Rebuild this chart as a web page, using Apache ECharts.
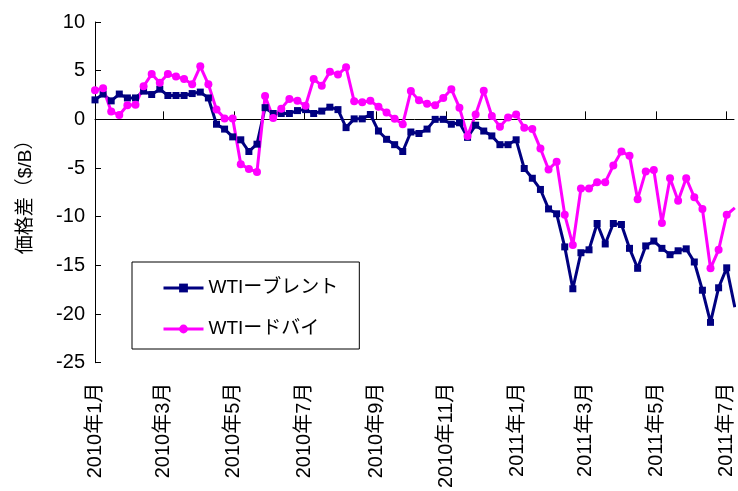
<!DOCTYPE html>
<html>
<head>
<meta charset="utf-8">
<script src="https://cdn.jsdelivr.net/npm/echarts@6/dist/echarts.min.js"></script>
<style>
  html, body { margin: 0; padding: 0; background: #fff; }
  #chart { width: 738px; height: 491px; }
</style>
</head>
<body>
<div id="chart"></div>
<script>
// Weekly price spreads, first week starting 2010-01-01
const firstWeek = [2010, 0, 1];
const seriesNames = ['WTIーブレント', 'WTIードバイ'];

const wtiBrent = [
  2.0, 2.6, 1.9, 2.6, 2.2, 2.2, 2.9, 2.55, 3.1, 2.45,
  2.45, 2.45, 2.65, 2.8, 2.2, -0.5, -1.0, -1.8, -2.1, -3.3,
  -2.55, 1.2, 0.6, 0.6, 0.6, 0.9, 1.0, 0.6, 0.85, 1.25,
  1.0, -0.85, 0.05, 0.05, 0.5, -1.2, -2.05, -2.6, -3.3, -1.3,
  -1.45, -1.0, 0.0, 0.0, -0.5, -0.35, -1.85, -0.6, -1.2, -1.7,
  -2.6, -2.6, -2.1, -5.05, -6.05, -7.2, -9.2, -9.7, -13.1, -17.4,
  -13.7, -13.4, -10.7, -12.8, -10.7, -10.8, -13.25, -15.3, -13.0, -12.5,
  -13.25, -13.9, -13.5, -13.3, -14.65, -17.55, -20.85, -17.3, -15.25, -19.3
];

const wtiDubai = [
  3.0, 3.2, 0.8, 0.45, 1.45, 1.5, 3.4, 4.65, 3.75, 4.65,
  4.4, 4.15, 3.6, 5.45, 3.6, 1.0, 0.1, 0.1, -4.6, -5.1,
  -5.4, 2.4, 0.15, 1.1, 2.1, 1.9, 1.4, 4.15, 3.45, 4.9,
  4.6, 5.35, 1.85, 1.75, 1.9, 1.3, 0.7, 0.05, -0.5, 2.9,
  1.95, 1.6, 1.45, 2.2, 3.1, 1.2, -1.7, 0.5, 2.95, 0.35,
  -0.75, 0.2, 0.5, -0.85, -1.0, -3.0, -5.15, -4.35, -9.8, -12.9,
  -7.1, -7.1, -6.45, -6.45, -4.75, -3.3, -3.75, -8.2, -5.35, -5.2,
  -10.65, -6.05, -8.35, -6.05, -8.0, -9.2, -15.3, -13.4, -9.8, -9.1
];

// Month ticks on the date axis (year, month)
const monthTicks = [
  [2010, 1], [2010, 3], [2010, 5], [2010, 7], [2010, 9], [2010, 11],
  [2011, 1], [2011, 3], [2011, 5], [2011, 7]
];

const yTicks = { min: -25, max: 10, step: 5 };

const DAY = 86400000;
const t0 = Date.UTC(firstWeek[0], firstWeek[1], firstWeek[2]);
const weekTime = (i) => t0 + i * 7 * DAY;
const tickTimes = monthTicks.map(([y, m]) => Date.UTC(y, m - 1, 1));
const xMax = t0 + 552.3 * DAY;

const pairs = (vals) => vals.map((v, i) => [weekTime(i), v]);

const FONT = '"Liberation Sans", Arial, "Noto Sans CJK JP", sans-serif';

const chart = echarts.init(document.getElementById('chart'), null, { renderer: 'canvas' });

chart.setOption({
  backgroundColor: '#ffffff',
  animation: false,
  textStyle: { fontFamily: FONT, color: '#000' },
  grid: { left: 95, top: 22, right: 4, bottom: 126, containLabel: false },
  legend: {
    orient: 'vertical',
    left: 132,
    top: 262,
    padding: [16, 21, 10, 30],
    itemGap: 21,
    itemWidth: 40,
    itemHeight: 11,
    borderColor: '#000',
    borderWidth: 1,
    backgroundColor: '#fff',
    lineStyle: { width: 3 },
    textStyle: { fontFamily: FONT, fontSize: 19, color: '#000', lineHeight: 20 },
    data: seriesNames
  },
  xAxis: [
    {
      type: 'value',
      min: t0,
      max: xMax,
      position: 'bottom',
      axisLine: { show: false, onZero: false },
      axisTick: { show: false },
      splitLine: { show: false },
      axisLabel: {
        customValues: tickTimes,
        rotate: 90,
        margin: 20,
        fontSize: 20,
        color: '#000',
        fontFamily: FONT,
        formatter: (v) => {
          const d = new Date(v);
          return d.getUTCFullYear() + '年' + (d.getUTCMonth() + 1) + '月';
        }
      }
    },
    {
      type: 'value',
      min: t0,
      max: xMax,
      position: 'bottom',
      axisLine: { show: true, onZero: true, lineStyle: { color: '#000', width: 1 } },
      axisTick: { show: true, inside: true, length: 8, customValues: tickTimes, lineStyle: { color: '#000' } },
      axisLabel: { show: false },
      splitLine: { show: false }
    }
  ],
  yAxis: {
    type: 'value',
    min: yTicks.min,
    max: yTicks.max,
    interval: yTicks.step,
    name: '価格差（$/B）',
    nameLocation: 'middle',
    nameGap: 60,
    nameRotate: 90,
    nameTextStyle: { fontSize: 19, color: '#000', fontFamily: FONT },
    axisLine: { show: true, lineStyle: { color: '#000', width: 1 } },
    axisTick: { show: true, inside: true, length: 6, lineStyle: { color: '#000' } },
    axisLabel: { fontSize: 20, color: '#000', margin: 10, fontFamily: FONT },
    splitLine: { show: false }
  },
  series: [
    {
      name: seriesNames[0],
      type: 'line',
      xAxisIndex: 0,
      data: pairs(wtiBrent),
      symbol: 'rect',
      symbolSize: 7,
      lineStyle: { color: '#000080', width: 3 },
      itemStyle: { color: '#000080' },
      clip: true
    },
    {
      name: seriesNames[1],
      type: 'line',
      xAxisIndex: 0,
      data: pairs(wtiDubai),
      symbol: 'circle',
      symbolSize: 8,
      lineStyle: { color: '#FF00FF', width: 3 },
      itemStyle: { color: '#FF00FF' },
      clip: true
    }
  ]
});
</script>
</body>
</html>
